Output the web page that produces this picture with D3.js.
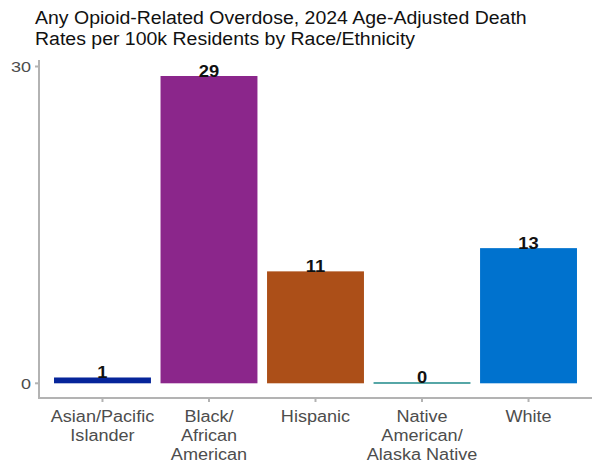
<!DOCTYPE html>
<html lang="en">
<head>
<meta charset="UTF-8">
<title>Opioid Overdose Rates</title>
<style>
    body { margin: 0; background: #fff; }
    svg { display: block; font-family: "Liberation Sans", Arial, sans-serif; }
</style>
</head>
<body>
<svg width="592" height="468"></svg>
<script src="https://d3js.org/d3.v7.min.js"></script>
<script>
    // data
    const groups = ["Asian/Pacific Islander", "Black/African American", "Hispanic", "Native American/Alaska Native", "White"];
    const groupLines = [["Asian/Pacific", "Islander"], ["Black/", "African", "American"], ["Hispanic"], ["Native", "American/", "Alaska Native"], ["White"]];
    const rates = [0.55, 29.1, 10.6, 0.1, 12.8];
    const colors = ["#06259a", "#8b268b", "#ac4f18", "#1f8a8a", "#0072ce"];
    const yTicks = [0, 30];
    const titleLines = ["Any Opioid-Related Overdose, 2024 Age-Adjusted Death", "Rates per 100k Residents by Race/Ethnicity"];

    const svg = d3.select("svg");
    const left = 39, right = 592, axisY = 398, axisTop = 60;

    const x = d3.scaleBand().domain(groups).range([left, right]).paddingInner(0.09).paddingOuter(0.141);
    const y = d3.scaleLinear().domain([0, 30]).range([383.3, 66.5]);

    // stretched text helper (reference text is a bit wide)
    function stxt(g, tx, ty, str, sx) {
        return g.append("text")
            .attr("transform", `translate(${tx},${ty}) scale(${sx},1)`)
            .text(str);
    }

    // title
    const tg = svg.append("g").attr("fill", "#111").attr("font-size", 19);
    titleLines.forEach((t, i) => stxt(tg, 35, 23.5 + i * 21.5, t, 1.026));

    // bars
    svg.append("g").selectAll("rect").data(groups).enter().append("rect")
        .attr("x", d => x(d))
        .attr("width", x.bandwidth())
        .attr("y", (d, i) => y(rates[i]))
        .attr("height", (d, i) => Math.max(1.5, y(0) - y(rates[i])))
        .attr("fill", (d, i) => colors[i]);

    // value labels
    const lg = svg.append("g").attr("font-size", 17).attr("font-weight", "bold").attr("fill", "#111").attr("text-anchor", "middle");
    groups.forEach((d, i) => stxt(lg, x(d) + x.bandwidth() / 2, y(rates[i]) + 1, Math.round(rates[i]), 1.08));

    // axes
    const ax = svg.append("g").attr("stroke", "#b3b3b3").attr("stroke-width", 2).attr("fill", "none");
    ax.append("line").attr("x1", left).attr("x2", left).attr("y1", axisTop).attr("y2", axisY + 1);
    ax.append("line").attr("x1", left - 1).attr("x2", right).attr("y1", axisY).attr("y2", axisY);
    ax.selectAll(".yt").data(yTicks).enter().append("line")
        .attr("x1", left - 4).attr("x2", left).attr("y1", d => y(d)).attr("y2", d => y(d));
    ax.selectAll(".xt").data(groups).enter().append("line")
        .attr("x1", d => x(d) + x.bandwidth() / 2).attr("x2", d => x(d) + x.bandwidth() / 2)
        .attr("y1", axisY).attr("y2", axisY + 4);

    const yg = svg.append("g").attr("font-size", 15).attr("fill", "#4d4d4d").attr("text-anchor", "end");
    yTicks.forEach(v => stxt(yg, left - 8, y(v) + 5.5, v, 1.2));

    const xg = svg.append("g").attr("font-size", 16).attr("fill", "#4d4d4d").attr("text-anchor", "middle");
    groups.forEach((d, i) => {
        groupLines[i].forEach((ln, j) => stxt(xg, x(d) + x.bandwidth() / 2, 421.7 + j * 19, ln, 1.13));
    });
</script>
</body>
</html>
